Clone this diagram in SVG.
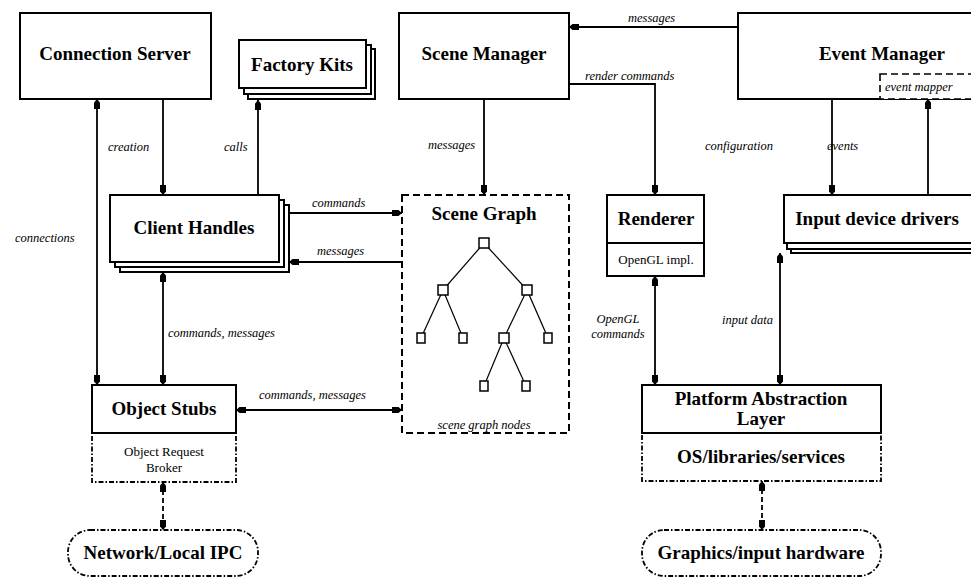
<svg xmlns="http://www.w3.org/2000/svg" width="971" height="578" viewBox="0 0 971 578">
<defs>
<marker id="ah" markerUnits="userSpaceOnUse" markerWidth="10" markerHeight="8" viewBox="0 0 10 8" refX="10" refY="4" orient="auto-start-reverse">
<path d="M0,1 L6.5,1 L10,4 L6.5,7 L0,7 Z" fill="#000"/>
</marker>
<style>
.box{fill:#fff;stroke:#000;stroke-width:2}
.dash{fill:#fff;stroke:#000;stroke-width:2;stroke-dasharray:7,4}
.dd{fill:#fff;stroke:#000;stroke-width:1.8;stroke-dasharray:5,2,1.5,2}
.t{font-family:"Liberation Serif",serif;font-weight:bold;font-size:19px;text-anchor:middle;fill:#000}
.s{font-family:"Liberation Serif",serif;font-size:13px;text-anchor:middle;fill:#000}
.l{font-family:"Liberation Serif",serif;font-style:italic;font-size:12.5px;fill:#000}
.c{fill:none;stroke:#000;stroke-width:1.8}
.cd{fill:none;stroke:#000;stroke-width:1.8;stroke-dasharray:5,3}
.e{fill:none;stroke:#000;stroke-width:1.2}
.n{fill:#fff;stroke:#000;stroke-width:1.5}
</style>
</defs>
<rect width="971" height="578" fill="#fff"/>

<g id="connectors">
<line class="c" x1="163" y1="99" x2="163" y2="195" marker-end="url(#ah)"/>
<line class="c" x1="258" y1="195" x2="258" y2="100" marker-end="url(#ah)"/>
<line class="c" x1="97" y1="99" x2="97" y2="385" marker-start="url(#ah)" marker-end="url(#ah)"/>
<line class="c" x1="163" y1="272" x2="163" y2="385" marker-start="url(#ah)" marker-end="url(#ah)"/>
<line class="c" x1="289" y1="213" x2="402" y2="213" marker-end="url(#ah)"/>
<line class="c" x1="402" y1="262" x2="289" y2="262" marker-end="url(#ah)"/>
<line class="c" x1="236" y1="410" x2="402" y2="410" marker-start="url(#ah)" marker-end="url(#ah)"/>
<line class="cd" x1="163" y1="482" x2="163" y2="530" marker-start="url(#ah)" marker-end="url(#ah)"/>
<line class="c" x1="738" y1="27" x2="569" y2="27" marker-end="url(#ah)"/>
<polyline class="c" points="569,84 655,84 655,195" marker-end="url(#ah)"/>
<line class="c" x1="484" y1="99" x2="484" y2="195" marker-end="url(#ah)"/>
<line class="c" x1="832" y1="99" x2="832" y2="195" marker-end="url(#ah)"/>
<line class="c" x1="928" y1="195" x2="928" y2="99" marker-end="url(#ah)"/>
<line class="c" x1="655" y1="276" x2="655" y2="385" marker-start="url(#ah)" marker-end="url(#ah)"/>
<line class="c" x1="780" y1="253" x2="780" y2="385" marker-start="url(#ah)" marker-end="url(#ah)"/>
<line class="cd" x1="762" y1="481" x2="762" y2="530" marker-start="url(#ah)" marker-end="url(#ah)"/>

<text class="l" x="108" y="151">creation</text>
<text class="l" x="224" y="151">calls</text>
<text class="l" x="15" y="242">connections</text>
<text class="l" x="312" y="207">commands</text>
<text class="l" x="317" y="255">messages</text>
<text class="l" x="168" y="337">commands, messages</text>
<text class="l" x="259" y="399">commands, messages</text>
<text class="l" x="428" y="149">messages</text>
<text class="l" x="628" y="22">messages</text>
<text class="l" x="585" y="80">render commands</text>
<text class="l" x="705" y="150">configuration</text>
<text class="l" x="827" y="150">events</text>
<text class="l" x="618" y="323" text-anchor="middle">OpenGL</text>
<text class="l" x="618" y="338" text-anchor="middle">commands</text>
<text class="l" x="722" y="324">input data</text>
</g>

<g id="connection-server">
<rect class="box" x="20" y="13" width="191" height="86"/>
<text class="t" x="115" y="60">Connection Server</text>
</g>

<g id="factory-kits">
<rect class="box" x="248" y="49" width="127" height="50"/>
<rect class="box" x="244" y="45" width="127" height="49"/>
<rect class="box" x="239" y="40" width="127" height="48"/>
<text class="t" x="302" y="71">Factory Kits</text>
</g>

<g id="client-handles">
<rect class="box" x="120" y="205" width="169" height="67"/>
<rect class="box" x="115" y="200" width="169" height="67"/>
<rect class="box" x="110" y="195" width="169" height="67"/>
<text class="t" x="194" y="234">Client Handles</text>
</g>

<g id="object-stubs">
<rect class="dd" x="92" y="433" width="144" height="49"/>
<rect class="box" x="92" y="385" width="144" height="48"/>
<text class="t" x="164" y="415">Object Stubs</text>
<text class="s" x="164" y="456">Object Request</text>
<text class="s" x="164" y="472">Broker</text>
</g>

<g id="network-ipc">
<rect class="dd" x="68" y="530" width="190" height="46" rx="22" ry="22"/>
<text class="t" x="163" y="559">Network/Local IPC</text>
</g>

<g id="scene-manager">
<rect class="box" x="399" y="13" width="170" height="86"/>
<text class="t" x="484" y="60">Scene Manager</text>
</g>

<g id="scene-graph">
<rect class="dash" x="402" y="195" width="167" height="238"/>
<text class="t" x="484" y="220">Scene Graph</text>
<line class="e" x1="484" y1="243" x2="443" y2="290"/>
<line class="e" x1="484" y1="243" x2="527" y2="290"/>
<line class="e" x1="443" y1="290" x2="421" y2="338"/>
<line class="e" x1="443" y1="290" x2="463" y2="338"/>
<line class="e" x1="527" y1="290" x2="504" y2="338"/>
<line class="e" x1="527" y1="290" x2="548" y2="338"/>
<line class="e" x1="504" y1="338" x2="484" y2="386"/>
<line class="e" x1="504" y1="338" x2="526" y2="386"/>
<rect class="n" x="479" y="238" width="10" height="10"/>
<rect class="n" x="438" y="285" width="10" height="10"/>
<rect class="n" x="522" y="285" width="10" height="10"/>
<rect class="n" x="417" y="333" width="8" height="10"/>
<rect class="n" x="459" y="333" width="8" height="10"/>
<rect class="n" x="499" y="333" width="10" height="10"/>
<rect class="n" x="544" y="333" width="8" height="10"/>
<rect class="n" x="480" y="381" width="8" height="10"/>
<rect class="n" x="522" y="381" width="8" height="10"/>
<text class="l" x="484" y="429" text-anchor="middle">scene graph nodes</text>
</g>

<g id="event-manager">
<rect class="box" x="738" y="13" width="236" height="86"/>
<text class="t" x="882" y="60">Event Manager</text>
<rect class="dash" x="880" y="74" width="94" height="25" style="stroke-width:1.6"/>
<text class="l" x="885" y="91">event mapper</text>
</g>

<g id="renderer">
<rect class="box" x="607" y="195" width="97" height="48"/>
<rect class="box" x="607" y="243" width="97" height="33"/>
<text class="t" x="656" y="225">Renderer</text>
<text class="s" x="656" y="264">OpenGL impl.</text>
</g>

<g id="input-device-drivers">
<rect class="box" x="791" y="202" width="185" height="51"/>
<rect class="box" x="787" y="198" width="185" height="51"/>
<rect class="box" x="784" y="195" width="190" height="48"/>
<text class="t" x="877" y="225">Input device drivers</text>
</g>

<g id="platform-abstraction">
<rect class="dd" x="642" y="433" width="239" height="48"/>
<rect class="box" x="642" y="385" width="239" height="48"/>
<text class="t" x="761" y="405">Platform Abstraction</text>
<text class="t" x="761" y="425">Layer</text>
<text class="t" x="761" y="463">OS/libraries/services</text>
</g>

<g id="graphics-hardware">
<rect class="dd" x="642" y="530" width="239" height="46" rx="22" ry="22"/>
<text class="t" x="761" y="559">Graphics/input hardware</text>
</g>
</svg>
